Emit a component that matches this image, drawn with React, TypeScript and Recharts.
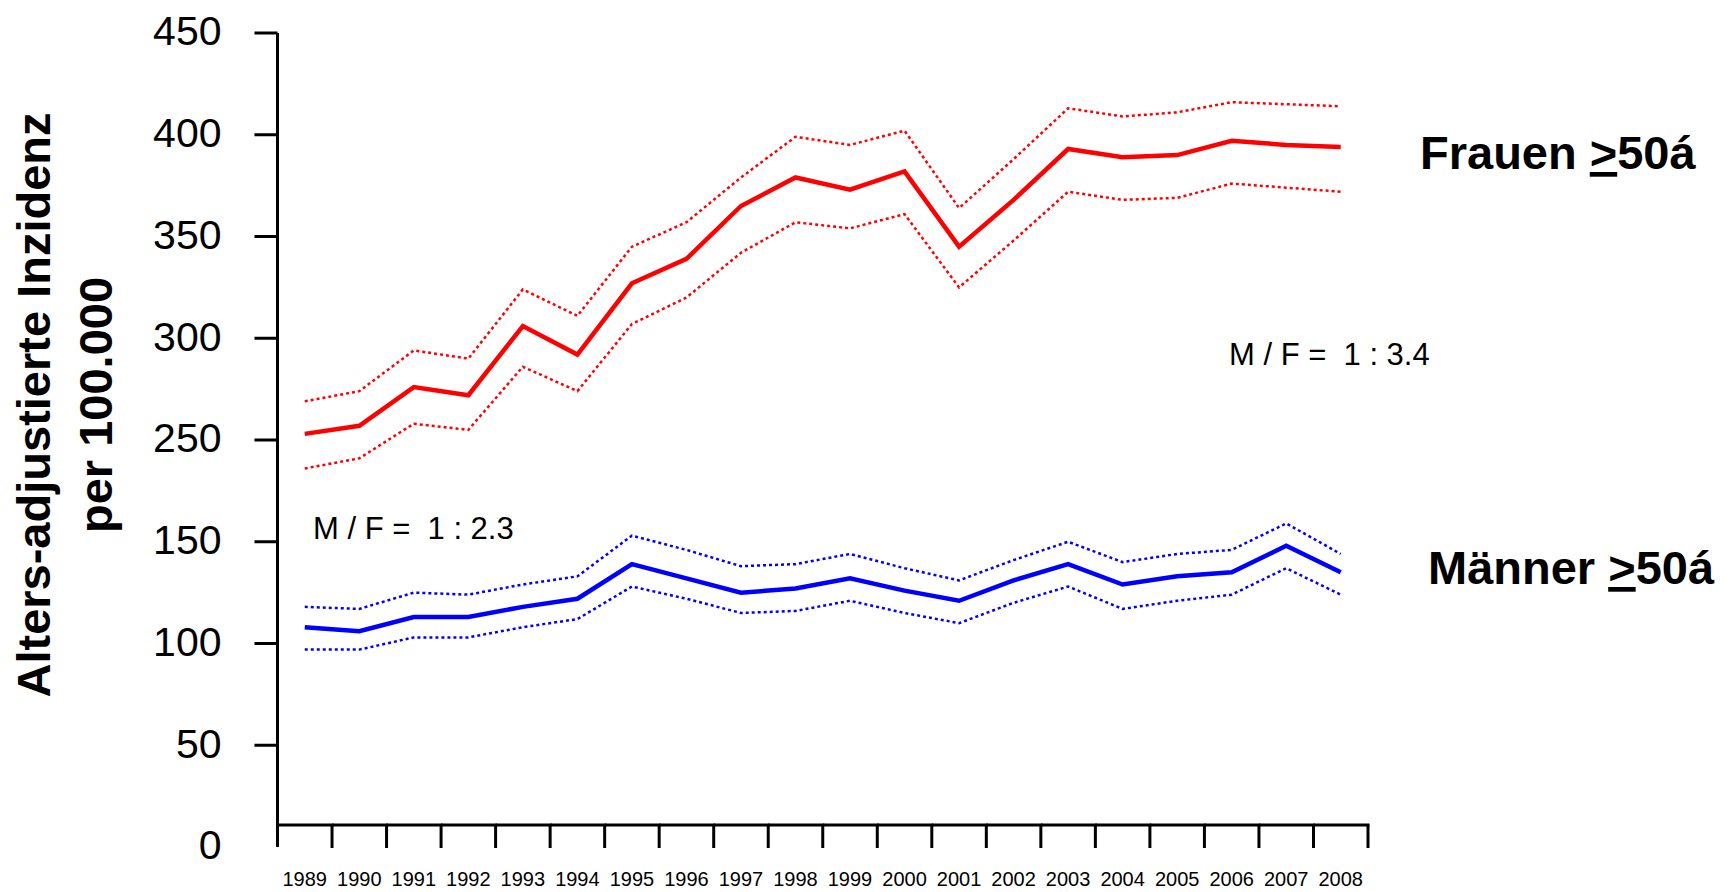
import { LineChart, Line, XAxis, YAxis } from 'recharts'

// Alters-adjustierte Inzidenz per 100.000, Frauen und Männer >= 50 Jahre, 1989-2008
const years = [
  '1989', '1990', '1991', '1992', '1993', '1994', '1995', '1996', '1997', '1998',
  '1999', '2000', '2001', '2002', '2003', '2004', '2005', '2006', '2007', '2008',
]

const frauen = [253, 257, 276, 272, 306, 292, 327, 339, 365, 379, 373, 382, 345, 368, 393, 389, 390, 397, 395, 394]
const frauenUpper = [269, 274, 294, 290, 324, 311, 345, 357, 379, 399, 395, 402, 364, 388, 413, 409, 411, 416, 415, 414]
const frauenLower = [236, 241, 258, 255, 286, 274, 307, 320, 342, 357, 354, 361, 325, 348, 372, 368, 369, 376, 374, 372]

const maenner = [108, 106, 113, 113, 118, 122, 139, 132, 125, 127, 132, 126, 121, 131, 139, 129, 133, 135, 148, 135]
const maennerUpper = [118, 117, 125, 124, 129, 133, 153, 146, 138, 139, 144, 137, 131, 141, 150, 140, 144, 146, 159, 144]
const maennerLower = [97, 97, 103, 103, 108, 112, 128, 122, 115, 116, 121, 115, 110, 120, 128, 117, 121, 124, 137, 124]

// the value axis skips 150..250 (no 200 label), so everything above the gap moves down by 50
const yTickLabels = [0, 50, 100, 150, 250, 300, 350, 400, 450]
const GAP = 50
const toAxis = (v: number) => (v >= 200 ? v - GAP : v)
const fromAxis = (v: number) => (v >= 200 ? v + GAP : v)

const data = years.map((year, i) => ({
  year,
  fUp: toAxis(frauenUpper[i]),
  f: toAxis(frauen[i]),
  fLo: toAxis(frauenLower[i]),
  mUp: toAxis(maennerUpper[i]),
  m: toAxis(maenner[i]),
  mLo: toAxis(maennerLower[i]),
}))

const W = 1736
const H = 892
const PLOT_LEFT = 277.5
const PLOT_RIGHT = 1368
const PLOT_TOP = 33
const X_AXIS_H = 45
const BAND = (PLOT_RIGHT - PLOT_LEFT) / years.length
const FONT = '"Liberation Sans", Arial, Helvetica, sans-serif'
const RED = '#ff0000'
const BLUE = '#0000ff'
const NBSP = '\u00a0'

// x axis: baseline sits a bit above the zero line, ticks on the band edges, years centred in the band
function YearTick(props: any) {
  const { x, y, payload, index } = props
  const base = y - 22
  return (
    <g>
      <line x1={x - BAND / 2 - (index === 0 ? 1.5 : 0)} x2={x + BAND / 2 + 1.5} y1={base} y2={base} stroke="#000" strokeWidth={3} />
      <line x1={x + BAND / 2} x2={x + BAND / 2} y1={base} y2={y + 1} stroke="#000" strokeWidth={3} />
      <text x={x} y={y + 39} textAnchor="middle" fontSize={20} fontFamily={FONT} fill="#000">
        {payload.value}
      </text>
    </g>
  )
}

function ValueTick(props: any) {
  const { x, y, payload } = props
  return (
    <g>
      {payload.value !== 0 && <line x1={x + 33} x2={x + 56} y1={y} y2={y} stroke="#000" strokeWidth={3} />}
      <text x={x} y={y} dy="0.3em" textAnchor="end" fontSize={41} fontFamily={FONT} fill="#000">
        {fromAxis(payload.value)}
      </text>
    </g>
  )
}

export default function App() {
  return (
    <div style={{ position: 'fixed', left: 0, top: 0, width: W, height: H, background: '#fff' }}>
      <LineChart
        width={W}
        height={H}
        data={data}
        margin={{ top: PLOT_TOP, right: W - PLOT_RIGHT, bottom: 0, left: 0 }}
      >
        <XAxis
          dataKey="year"
          interval={0}
          height={X_AXIS_H}
          padding={{ left: BAND / 2, right: BAND / 2 }}
          axisLine={false}
          tickLine={false}
          tickSize={0}
          tickMargin={0}
          tick={YearTick}
        />
        <YAxis
          type="number"
          domain={[0, 400]}
          ticks={yTickLabels.map(toAxis)}
          width={PLOT_LEFT}
          axisLine={{ stroke: '#000', strokeWidth: 3 }}
          tickLine={false}
          tickSize={23}
          tickMargin={33}
          tick={ValueTick}
        />
        <Line dataKey="fUp" type="linear" stroke={RED} strokeWidth={2.5} strokeDasharray="3 3" dot={false} isAnimationActive={false} />
        <Line dataKey="fLo" type="linear" stroke={RED} strokeWidth={2.5} strokeDasharray="3 3" dot={false} isAnimationActive={false} />
        <Line dataKey="f" type="linear" stroke={RED} strokeWidth={4.5} dot={false} isAnimationActive={false} />
        <Line dataKey="mUp" type="linear" stroke={BLUE} strokeWidth={2.5} strokeDasharray="3 3" dot={false} isAnimationActive={false} />
        <Line dataKey="mLo" type="linear" stroke={BLUE} strokeWidth={2.5} strokeDasharray="3 3" dot={false} isAnimationActive={false} />
        <Line dataKey="m" type="linear" stroke={BLUE} strokeWidth={4.5} dot={false} isAnimationActive={false} />
      </LineChart>

      <svg width={W} height={H} style={{ position: 'absolute', left: 0, top: 0, pointerEvents: 'none' }}>
        <g fontFamily={FONT} fontWeight="bold" fontSize={47} fill="#000">
          <text x={50} y={405} textAnchor="middle" transform="rotate(-90 50 405)">
            Alters-adjustierte Inzidenz
          </text>
          <text x={112} y={405} textAnchor="middle" transform="rotate(-90 112 405)">
            per 100.000
          </text>
          <text x={1420} y={169}>
            Frauen <tspan style={{ textDecoration: 'underline' }}>&gt;</tspan>50á
          </text>
          <text x={1428} y={584}>
            Männer <tspan style={{ textDecoration: 'underline' }}>&gt;</tspan>50á
          </text>
        </g>
        <g fontFamily={FONT} fontSize={31} fill="#000">
          <text x={1229} y={365}>{`M / F =${NBSP} 1 : 3.4`}</text>
          <text x={313} y={539}>{`M / F =${NBSP} 1 : 2.3`}</text>
        </g>
      </svg>
    </div>
  )
}
